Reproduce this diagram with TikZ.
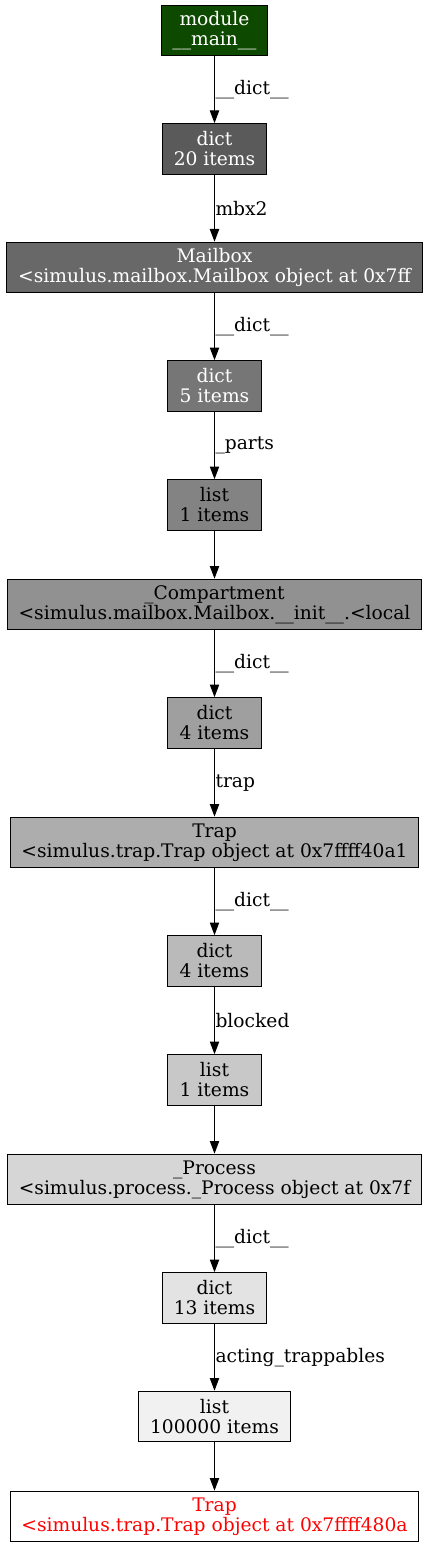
\documentclass[tikz,border=0pt]{standalone}
\usepackage{fontspec}
\setmainfont{DejaVu Serif}
\usetikzlibrary{arrows.meta}
\definecolor{modgreen}{HTML}{0D4A00}
\begin{document}
\begin{tikzpicture}[x=0.75pt,y=-0.75pt,
  every node/.style={font=\fontsize{14}{15}\selectfont},
  obj/.style={draw,line width=0.75pt,align=center,minimum width=70pt,minimum height=38pt,inner xsep=8.5pt,inner ysep=2pt},
  ref/.style={-{Triangle[length=9.5pt,width=7pt]},line width=0.75pt},
  lbl/.style={midway,anchor=west,inner sep=0.4pt}]
\useasboundingbox (0,0) rectangle (429,1548);
% chain of references, darkest first
\node[obj,fill=modgreen,text=white] (mod) at (214.5,30.5) {module\\\_\_main\_\_};
\node[obj,fill=black!64.6,text=white] (dictA) at (214.5,149) {dict\\20 items};
\node[obj,fill=black!59.2,text=white] (mbox) at (214.5,267.5) {Mailbox\\<simulus.mailbox.Mailbox object at 0x7ff};
\node[obj,fill=black!53.8,text=white] (dictB) at (214.5,386) {dict\\5 items};
\node[obj,fill=black!48.5] (listA) at (214.5,505) {list\\1 items};
\node[obj,fill=black!43.1] (comp) at (214.5,604.5) {\_Compartment\\<simulus.mailbox.Mailbox.\_\_init\_\_.<local};
\node[obj,fill=black!37.7] (dictC) at (214.5,723) {dict\\4 items};
\node[obj,fill=black!32.3] (trapA) at (214.5,842.5) {Trap\\<simulus.trap.Trap object at 0x7ffff40a1};
\node[obj,fill=black!26.9] (dictD) at (214.5,961) {dict\\4 items};
\node[obj,fill=black!21.5] (listB) at (214.5,1080) {list\\1 items};
\node[obj,fill=black!16.2] (proc) at (214.5,1179.5) {\_Process\\<simulus.process.\_Process object at 0x7f};
\node[obj,fill=black!10.8] (dictE) at (214.5,1298) {dict\\13 items};
\node[obj,fill=black!5.4] (listC) at (214.5,1416.5) {list\\100000 items};
\node[obj,fill=white,text=red] (trapB) at (214.5,1516.5) {Trap\\<simulus.trap.Trap object at 0x7ffff480a};
% references
\draw[ref] (mod) -- (dictA) node[lbl] {\_\_dict\_\_};
\draw[ref] (dictA) -- (mbox) node[lbl] {mbx2};
\draw[ref] (mbox) -- (dictB) node[lbl] {\_\_dict\_\_};
\draw[ref] (dictB) -- (listA) node[lbl] {\_parts};
\draw[ref] (listA) -- (comp);
\draw[ref] (comp) -- (dictC) node[lbl] {\_\_dict\_\_};
\draw[ref] (dictC) -- (trapA) node[lbl] {trap};
\draw[ref] (trapA) -- (dictD) node[lbl] {\_\_dict\_\_};
\draw[ref] (dictD) -- (listB) node[lbl] {blocked};
\draw[ref] (listB) -- (proc);
\draw[ref] (proc) -- (dictE) node[lbl] {\_\_dict\_\_};
\draw[ref] (dictE) -- (listC) node[lbl] {acting\_trappables};
\draw[ref] (listC) -- (trapB);
\end{tikzpicture}
\end{document}
